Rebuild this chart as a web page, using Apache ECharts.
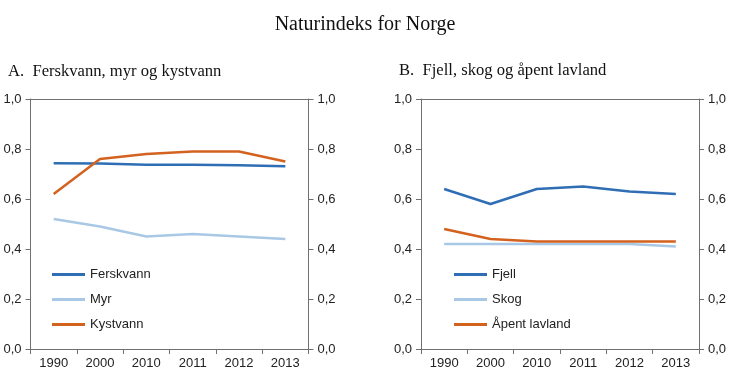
<!DOCTYPE html>
<html><head><meta charset="utf-8">
<script src="https://cdn.jsdelivr.net/npm/echarts@6/dist/echarts.min.js"></script>
<style>html,body{margin:0;padding:0;background:#fff}#c{width:730px;height:389px}</style>
</head><body><div id="c"></div>
<script>
const years = ['1990','2000','2010','2011','2012','2013'];
const yTicks = [0, 0.2, 0.4, 0.6, 0.8, 1.0];
const ferskvann = [0.743, 0.742, 0.737, 0.737, 0.735, 0.731];
const myr = [0.52, 0.49, 0.45, 0.46, 0.45, 0.44];
const kystvann = [0.62, 0.76, 0.78, 0.79, 0.79, 0.75];
const fjell = [0.64, 0.58, 0.64, 0.65, 0.63, 0.62];
const skog = [0.42, 0.42, 0.42, 0.42, 0.42, 0.41];
const apentLavland = [0.48, 0.44, 0.43, 0.43, 0.43, 0.43];

const DARK = '#2F6EB5', LIGHT = '#A9C8E6', ORANGE = '#D4621F', AX = '#707070';
const labelFont = () => ({fontFamily: 'Liberation Sans', fontSize: 13, color: '#222'});
const fmt = v => v.toFixed(1).replace('.', ',');

function xAx(gi) {
  return [{
    type: 'category', data: years, gridIndex: gi, boundaryGap: true, position: 'bottom',
    axisLine: {onZero: false, lineStyle: {color: AX, width: 1}},
    axisTick: {show: true, inside: false, length: 5, lineStyle: {color: AX}},
    axisLabel: Object.assign({margin: 8}, labelFont())
  }, {
    type: 'category', data: years, gridIndex: gi, position: 'top',
    axisLine: {show: true, onZero: false, lineStyle: {color: AX, width: 1}},
    axisTick: {show: false}, axisLabel: {show: false}
  }];
}
function yAx(gi) {
  const mk = pos => ({
    type: 'value', gridIndex: gi, min: 0, max: 1, interval: 0.2, position: pos,
    axisLine: {show: true, onZero: false, lineStyle: {color: AX, width: 1}},
    axisTick: {show: true, inside: false, length: 5, lineStyle: {color: AX}},
    splitLine: {show: false},
    axisLabel: Object.assign({formatter: fmt, margin: 9}, labelFont())
  });
  return [mk('left'), mk('right')];
}
function ser(name, data, color, gi) {
  return {
    name, type: 'line', data, xAxisIndex: gi * 2, yAxisIndex: gi * 2,
    symbol: 'none', lineStyle: {color, width: 2.5}, itemStyle: {color},
    animation: false
  };
}
function legend(names, left) {
  return {
    data: names, orient: 'vertical', left, top: 268, padding: 0,
    icon: 'rect', itemWidth: 33, itemHeight: 3, itemGap: 12,
    textStyle: labelFont(), selectedMode: false
  };
}

const chart = echarts.init(document.getElementById('c'), null, {renderer: 'canvas'});
chart.setOption({
  animation: false,
  title: [
    {text: 'Naturindeks for Norge', left: 'center', top: 15, padding: 0,
     textStyle: {fontFamily: 'Liberation Serif', fontSize: 20, fontWeight: 'normal', color: '#111'}},
    {text: 'A.  Ferskvann, myr og kystvann', left: 8, top: 63, padding: 0,
     textStyle: {fontFamily: 'Liberation Serif', fontSize: 16.6, fontWeight: 'normal', color: '#111'}},
    {text: 'B.  Fjell, skog og åpent lavland', left: 399, top: 62, padding: 0,
     textStyle: {fontFamily: 'Liberation Serif', fontSize: 16.6, fontWeight: 'normal', color: '#111'}}
  ],
  grid: [
    {left: 30.5, width: 278, top: 99, height: 250},
    {left: 421, width: 278, top: 99, height: 250}
  ],
  xAxis: [...xAx(0), ...xAx(1)],
  yAxis: [...yAx(0), ...yAx(1)],
  legend: [legend(['Ferskvann', 'Myr', 'Kystvann'], 52), legend(['Fjell', 'Skog', 'Åpent lavland'], 454)],
  series: [
    ser('Ferskvann', ferskvann, DARK, 0),
    ser('Myr', myr, LIGHT, 0),
    ser('Kystvann', kystvann, ORANGE, 0),
    ser('Fjell', fjell, DARK, 1),
    ser('Skog', skog, LIGHT, 1),
    ser('Åpent lavland', apentLavland, ORANGE, 1)
  ]
});
</script></body></html>
